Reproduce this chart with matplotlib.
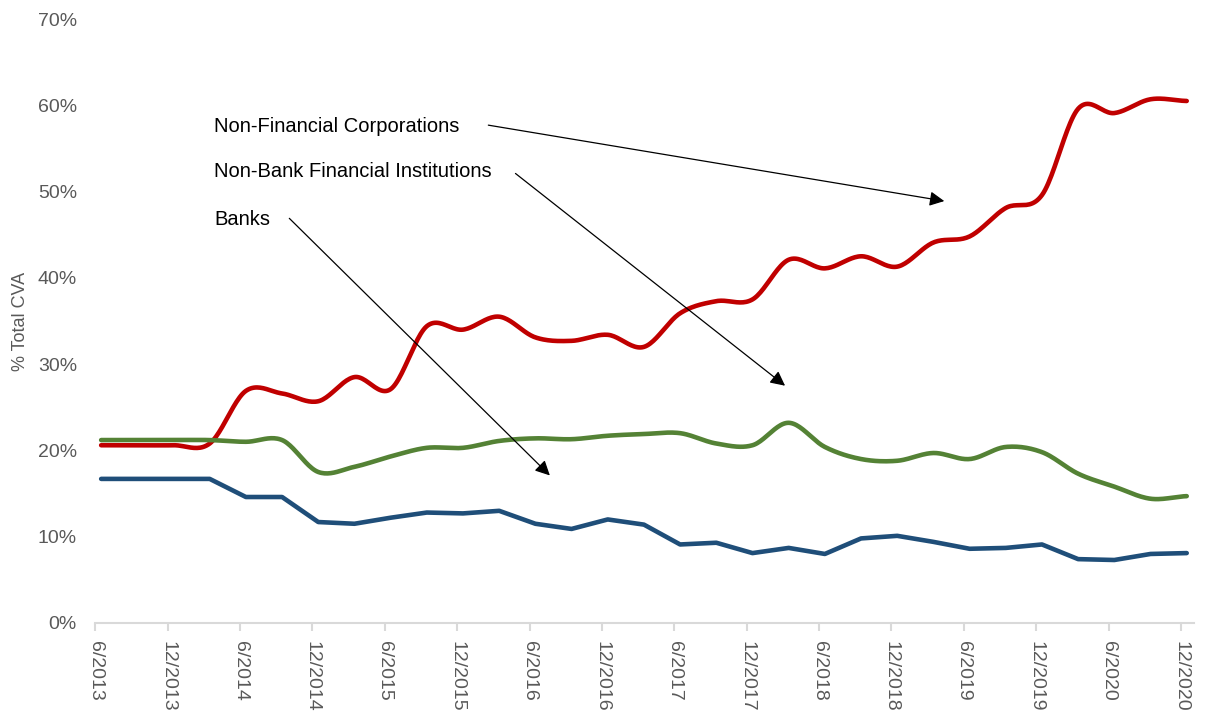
import numpy as np
import matplotlib
matplotlib.use('Agg')
import matplotlib.pyplot as plt

plt.rcParams['font.family'] = ['Liberation Sans', 'DejaVu Sans']

# quarterly data, 6/2013 .. 12/2020 (% of total CVA)
quarters = np.arange(31)
tick_labels = ['6/2013', '12/2013', '6/2014', '12/2014', '6/2015', '12/2015',
               '6/2016', '12/2016', '6/2017', '12/2017', '6/2018', '12/2018',
               '6/2019', '12/2019', '6/2020', '12/2020']

non_fin_corp = [20.6, 20.6, 20.6, 20.8, 26.9, 26.6, 25.7, 28.5, 27.1, 34.4,
                34.0, 35.5, 33.1, 32.7, 33.4, 32.0, 35.9, 37.3, 37.5, 42.1,
                41.1, 42.5, 41.3, 44.1, 44.8, 48.1, 49.6, 59.6, 59.1, 60.7, 60.5]
non_bank_fin = [21.2, 21.2, 21.2, 21.2, 21.0, 21.2, 17.5, 18.1, 19.3, 20.3,
                20.3, 21.1, 21.4, 21.3, 21.7, 21.9, 22.0, 20.8, 20.6, 23.2,
                20.4, 19.0, 18.8, 19.7, 19.0, 20.4, 19.8, 17.3, 15.8, 14.4, 14.7]
banks = [16.7, 16.7, 16.7, 16.7, 14.6, 14.6, 11.7, 11.5, 12.2, 12.8,
         12.7, 13.0, 11.5, 10.9, 12.0, 11.4, 9.1, 9.3, 8.1, 8.7,
         8.0, 9.8, 10.1, 9.4, 8.6, 8.7, 9.1, 7.4, 7.3, 8.0, 8.1]

RED = '#C00000'
GREEN = '#548235'
BLUE = '#1F4E79'
GREY = '#595959'


def smooth(xs, ys, n=24):
    # bezier smoothing like a spreadsheet "smoothed line"
    xs = np.asarray(xs, float)
    ys = np.asarray(ys, float)
    out_x, out_y = [xs[0]], [ys[0]]
    t = np.linspace(0, 1, n)[1:]
    for i in range(len(xs) - 1):
        p0 = ys[max(i - 1, 0)]
        p1 = ys[i]
        p2 = ys[i + 1]
        p3 = ys[min(i + 2, len(ys) - 1)]
        c1 = p1 + (p2 - p0) / 6
        c2 = p2 - (p3 - p1) / 6
        yy = (1 - t) ** 3 * p1 + 3 * (1 - t) ** 2 * t * c1 + 3 * (1 - t) * t ** 2 * c2 + t ** 3 * p2
        xx = xs[i] + t * (xs[i + 1] - xs[i])
        out_x.extend(xx)
        out_y.extend(yy)
    return np.array(out_x), np.array(out_y)


fig = plt.figure(figsize=(12.07, 7.15), dpi=100)
ax = fig.add_axes([0.0787, 0.1287, 0.9105, 0.8447])

sx, sy = smooth(quarters, non_fin_corp)
ax.plot(sx, sy, color=RED, lw=3.3, solid_capstyle='round')
sx, sy = smooth(quarters, non_bank_fin)
ax.plot(sx, sy, color=GREEN, lw=3.3, solid_capstyle='round')
ax.plot(quarters, banks, color=BLUE, lw=3.3, solid_capstyle='round', solid_joinstyle='round')

ax.set_ylim(0, 70)
ax.set_xlim(-0.17, 30.2)
ax.set_yticks(range(0, 71, 10))
ax.set_yticklabels(['%d%%' % v for v in range(0, 71, 10)])
ax.set_xticks(np.arange(0, 31, 2) - 0.16)
ax.set_xticklabels(tick_labels, rotation=270, ha='center', va='top')

for s in ['top', 'right', 'left']:
    ax.spines[s].set_visible(False)
ax.spines['bottom'].set_color('#D9D9D9')
ax.spines['bottom'].set_linewidth(1.5)
ax.tick_params(axis='x', colors='#D9D9D9', length=6, width=1.5, labelcolor=GREY,
               labelsize=14, pad=7)
ax.tick_params(axis='y', length=0, labelcolor=GREY, labelsize=14, pad=13)

ax.set_ylabel('% Total CVA', color=GREY, fontsize=13)
ax.yaxis.set_label_coords(-0.060, 0.5)

# annotations
arrow = dict(arrowstyle='-|>', color='black', lw=0.9, mutation_scale=22,
             shrinkA=0, shrinkB=0)
ax.text(3.12, 57.6, 'Non-Financial Corporations', fontsize=14.5, va='center')
ax.annotate('', xy=(23.3, 48.9), xytext=(10.7, 57.7), arrowprops=arrow)
ax.text(3.12, 52.3, 'Non-Bank Financial Institutions', fontsize=14.5, va='center')
ax.annotate('', xy=(18.9, 27.5), xytext=(11.45, 52.1), arrowprops=arrow)
ax.text(3.12, 46.8, 'Banks', fontsize=14.5, va='center')
ax.annotate('', xy=(12.4, 17.1), xytext=(5.2, 46.9), arrowprops=arrow)

fig.savefig('out.png', dpi=100)
